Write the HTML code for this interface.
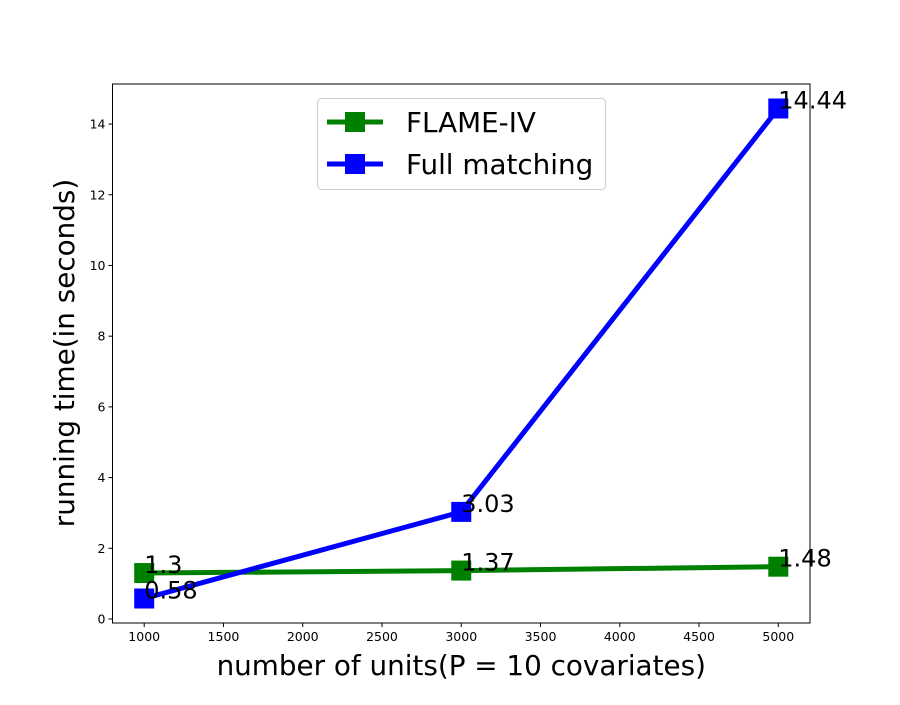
<!DOCTYPE html>
<html><head><meta charset="utf-8"><style>
body{margin:0;background:#fff}
svg{font-family:"DejaVu Sans","Liberation Sans",sans-serif}
</style></head><body>
<svg id="chart" width="900" height="700">
<rect width="900" height="700" fill="#fff"/>
<g id="plot"></g>
</svg>
<script>
const categories=[1000,3000,5000];
const flameValues=[1.3,1.37,1.48];
const fullValues=[0.58,3.03,14.44];
const flameLabels=["1.3","1.37","1.48"];
const fullLabels=["0.58","3.03","14.44"];
const xTicks=[1000,1500,2000,2500,3000,3500,4000,4500,5000];
const yTicks=[0,2,4,6,8,10,12,14];
const L=112.5,R=810,T=84,B=623,xmin=800,xmax=5200,ymin=-0.113,ymax=15.133;
const X=v=>L+(v-xmin)/(xmax-xmin)*(R-L);
const Y=v=>B-(v-ymin)/(ymax-ymin)*(B-T);
const NS="http://www.w3.org/2000/svg";
const g=document.getElementById('plot');
function mk(t,a,txt){const e=document.createElementNS(NS,t);for(const k in a)e.setAttribute(k,a[k]);if(txt!==undefined)e.textContent=txt;g.appendChild(e);return e;}
const frame=mk('rect',{x:L,y:T,width:R-L,height:B-T,fill:'none',stroke:'#000','stroke-width':1});


xTicks.forEach(v=>{
 const l=mk('line',{x1:X(v),x2:X(v),y1:B,y2:B+4,stroke:'#000'});
 
 
 const t=mk('text',{x:X(v),y:B+18,'text-anchor':'middle','font-size':12.5},String(v));
 
 
});
yTicks.forEach(v=>{
 const l=mk('line',{x1:L-4,x2:L,y1:Y(v),y2:Y(v),stroke:'#000'});
 
 
 const t=mk('text',{x:L-7,y:Y(v)+4.5,'text-anchor':'end','font-size':12.5},String(v));
 
 
});
function series(vals,color,name){
 const p=mk('polyline',{points:categories.map((c,i)=>X(c)+','+Y(vals[i])).join(' '),fill:'none',stroke:color,'stroke-width':5});
 
 
 categories.forEach((c,i)=>{
  const r=mk('rect',{x:X(c)-10,y:Y(vals[i])-10,width:20,height:20,fill:color});
  
  
 });
}
series(flameValues,'#008000','flame-iv');
series(fullValues,'#0000ff','full-matching');
function labelsFor(vals,labels,name){
 categories.forEach((c,i)=>{
  const t=mk('text',{x:X(c),y:Y(vals[i]),'font-size':24},labels[i]);
  
  
 });
}
labelsFor(flameValues,flameLabels,'flame-iv');
labelsFor(fullValues,fullLabels,'full-matching');
const xt=mk('text',{x:(L+R)/2,y:675,'text-anchor':'middle','font-size':27.8},'number of units(P = 10 covariates)');


const yt=mk('text',{x:0,y:0,'text-anchor':'middle','font-size':27.8,transform:'translate(74,353) rotate(-90)'},'running time(in seconds)');


const lg=mk('rect',{x:317.5,y:98.5,width:288,height:91,rx:4,fill:'#fff',stroke:'#ccc'});


[['FLAME-IV','#008000',122],['Full matching','#0000ff',164]].forEach(([n,c,y])=>{
 const l=mk('line',{x1:327,x2:383,y1:y,y2:y,stroke:c,'stroke-width':5});
 
 
 const r=mk('rect',{x:345,y:y-10,width:20,height:20,fill:c});
 
 
 const t=mk('text',{x:406,y:y+10,'font-size':27.8},n);
 
 
});
</script>
</body></html>
